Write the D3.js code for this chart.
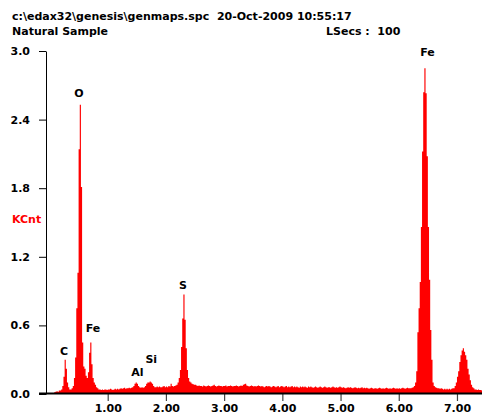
<!DOCTYPE html>
<html><head><meta charset="utf-8">
<script src="https://cdn.jsdelivr.net/npm/d3@7/dist/d3.min.js"></script>
<style>
html,body{margin:0;padding:0;background:#fff;overflow:hidden}
svg{display:block}
text{font-family:"DejaVu Sans",sans-serif;font-weight:bold;font-size:11px;white-space:pre}
</style></head>
<body>
<script>
// Header texts
const headerLine1 = "c:\\edax32\\genesis\\genmaps.spc  20-Oct-2009 10:55:17";
const sampleName = "Natural Sample";
const liveTime = "LSecs :  100";
const yLabel = "KCnt";

// Spectrum: counts (KCnt) per 0.02 keV channel starting at 0.00 keV
const channelWidth = 0.02;
const counts = [
 0.00,0.00,0.00,0.005,0.015,0.02,0.025,0.02,0.03,0.03,            // 0.00
 0.04,0.07,0.15,0.30,0.22,0.10,0.06,0.04,0.04,0.05,               // 0.20
 0.07,0.14,0.32,0.75,1.06,2.14,2.53,1.81,0.45,0.24,               // 0.40
 0.22,0.16,0.14,0.19,0.36,0.45,0.26,0.14,0.10,0.08,               // 0.60
 0.06,0.05,0.04,0.04,0.035,0.04,0.035,0.04,0.04,0.035,            // 0.80
 0.04,0.04,0.045,0.04,0.035,0.04,0.045,0.04,0.045,0.04,           // 1.00
 0.045,0.05,0.045,0.05,0.055,0.045,0.05,0.05,0.055,0.05,          // 1.20
 0.055,0.06,0.07,0.09,0.10,0.09,0.07,0.06,0.055,0.06,             // 1.40
 0.055,0.06,0.07,0.09,0.10,0.10,0.11,0.10,0.09,0.07,              // 1.60
 0.06,0.06,0.065,0.06,0.065,0.06,0.06,0.065,0.07,0.06,            // 1.80
 0.065,0.06,0.07,0.065,0.09,0.07,0.065,0.07,0.075,0.08,           // 2.00
 0.10,0.14,0.21,0.41,0.66,0.87,0.65,0.40,0.21,0.14,               // 2.20
 0.11,0.10,0.09,0.085,0.08,0.08,0.075,0.07,0.075,0.07,            // 2.40
 0.07,0.065,0.075,0.07,0.065,0.07,0.075,0.07,0.065,0.07,          // 2.60
 0.075,0.08,0.07,0.065,0.07,0.075,0.07,0.07,0.065,0.07,           // 2.80
 0.07,0.075,0.065,0.07,0.07,0.075,0.07,0.065,0.07,0.07,           // 3.00
 0.075,0.07,0.065,0.07,0.075,0.07,0.08,0.085,0.09,0.075,          // 3.20
 0.07,0.065,0.07,0.075,0.07,0.065,0.07,0.065,0.07,0.075,          // 3.40
 0.07,0.065,0.07,0.065,0.06,0.065,0.07,0.065,0.07,0.065,          // 3.60
 0.06,0.065,0.07,0.065,0.06,0.065,0.07,0.06,0.065,0.07,           // 3.80
 0.065,0.06,0.065,0.07,0.06,0.065,0.06,0.065,0.07,0.06,           // 4.00
 0.065,0.06,0.065,0.06,0.055,0.065,0.06,0.065,0.06,0.065,         // 4.20
 0.06,0.055,0.065,0.06,0.065,0.06,0.055,0.06,0.065,0.06,          // 4.40
 0.055,0.06,0.065,0.06,0.055,0.06,0.065,0.06,0.055,0.06,          // 4.60
 0.06,0.055,0.06,0.065,0.06,0.055,0.06,0.055,0.06,0.065,          // 4.80
 0.06,0.055,0.06,0.055,0.05,0.055,0.06,0.055,0.06,0.055,          // 5.00
 0.05,0.055,0.06,0.055,0.05,0.055,0.05,0.055,0.06,0.05,           // 5.20
 0.055,0.05,0.055,0.05,0.045,0.05,0.055,0.05,0.045,0.05,          // 5.40
 0.05,0.045,0.05,0.055,0.05,0.045,0.05,0.045,0.05,0.055,          // 5.60
 0.05,0.045,0.05,0.045,0.05,0.055,0.05,0.045,0.05,0.045,          // 5.80
 0.05,0.045,0.05,0.055,0.05,0.045,0.05,0.055,0.05,0.05,           // 6.00
 0.05,0.055,0.06,0.07,0.10,0.20,0.54,0.75,0.98,1.46,              // 6.20
 2.12,2.64,2.85,2.63,2.08,1.46,1.00,0.56,0.30,0.10,               // 6.40
 0.07,0.06,0.055,0.05,0.05,0.045,0.05,0.045,0.04,0.045,           // 6.60
 0.04,0.045,0.04,0.045,0.04,0.045,0.05,0.05,0.07,0.10,            // 6.80
 0.15,0.20,0.28,0.34,0.38,0.40,0.37,0.34,0.30,0.22,               // 7.00
 0.17,0.12,0.08,0.06,0.05,0.04,0.04,0.035,0.04,0.035,             // 7.20
 0.035,0.03                                                       // 7.40
];

// Axis ticks
const xTicks = [1, 2, 3, 4, 5, 6, 7];
const yTicks = [0.0, 0.6, 1.2, 1.8, 2.4, 3.0];

// Peak labels: element, energy (keV), label height (KCnt)
const peakNames    = ["C",   "O",   "Fe",  "Al",  "Si",  "S",   "Fe"];
const peakEnergies = [0.249, 0.507, 0.747, 1.512, 1.749, 2.294, 6.494];
const peakHeights  = [0.341, 2.598, 0.542, 0.157, 0.271, 0.918, 2.956];

const W = 482, H = 415;
const svg = d3.select("body").append("svg").attr("width", W).attr("height", H);

const x = d3.scaleLinear().domain([-0.06, 7.43]).range([46, 482]);
const y = d3.scaleLinear().domain([0, 3]).range([394, 51]);

// header
svg.append("text").attr("x", 12).attr("y", 20).attr("xml:space", "preserve").text(headerLine1);
svg.append("text").attr("x", 12).attr("y", 35).text(sampleName);
svg.append("text").attr("x", 326).attr("y", 35).attr("xml:space", "preserve").text(liveTime);

// spectrum
const pts = counts.map((c, i) => ({e: i * channelWidth, c}));
pts.push({e: counts.length * channelWidth, c: counts[counts.length - 1]});
const area = d3.area()
  .x(d => x(d.e))
  .y0(y(0))
  .y1(d => y(d.c))
  .curve(d3.curveStepAfter);
svg.append("path").datum(pts).attr("d", area).attr("fill", "#ff0000").attr("stroke", "none");

// y axis
const yAxis = d3.axisLeft(y).tickValues(yTicks).tickFormat(d3.format(".1f"))
  .tickSize(7).tickSizeOuter(0).tickPadding(9);
const gy = svg.append("g").attr("transform", "translate(46,0)").call(yAxis);
gy.selectAll("text").style("font-family", "DejaVu Sans").style("font-weight", "bold")
  .style("font-size", "11px").attr("fill", "#000");
gy.select(".domain").attr("stroke", "#000").attr("stroke-width", 1);
gy.selectAll(".tick line").attr("stroke", "#000");

// x axis
const xAxis = d3.axisBottom(x).tickValues(xTicks).tickFormat(d3.format(".2f"))
  .tickSize(7).tickSizeOuter(0).tickPadding(3);
const gx = svg.append("g").attr("transform", "translate(0,394)").call(xAxis);
gx.select(".domain").remove();
gx.selectAll(".tick line").attr("stroke", "#444").attr("stroke-width", 1.2);
gx.selectAll("text").style("font-family", "DejaVu Sans").style("font-weight", "bold")
  .style("font-size", "11px").attr("fill", "#000");
svg.append("line").attr("x1", 39).attr("x2", 482).attr("y1", 393.5).attr("y2", 393.5)
  .attr("stroke", "#000").attr("stroke-width", 2);

// y label
svg.append("text").attr("x", 12).attr("y", 223).attr("fill", "#ff0000").text(yLabel);

// peak labels
svg.append("g").selectAll("text").data(peakNames).join("text")
  .attr("x", (d, i) => x(peakEnergies[i]))
  .attr("y", (d, i) => y(peakHeights[i]))
  .attr("text-anchor", "middle")
  .text(d => d);
</script>
</body></html>
